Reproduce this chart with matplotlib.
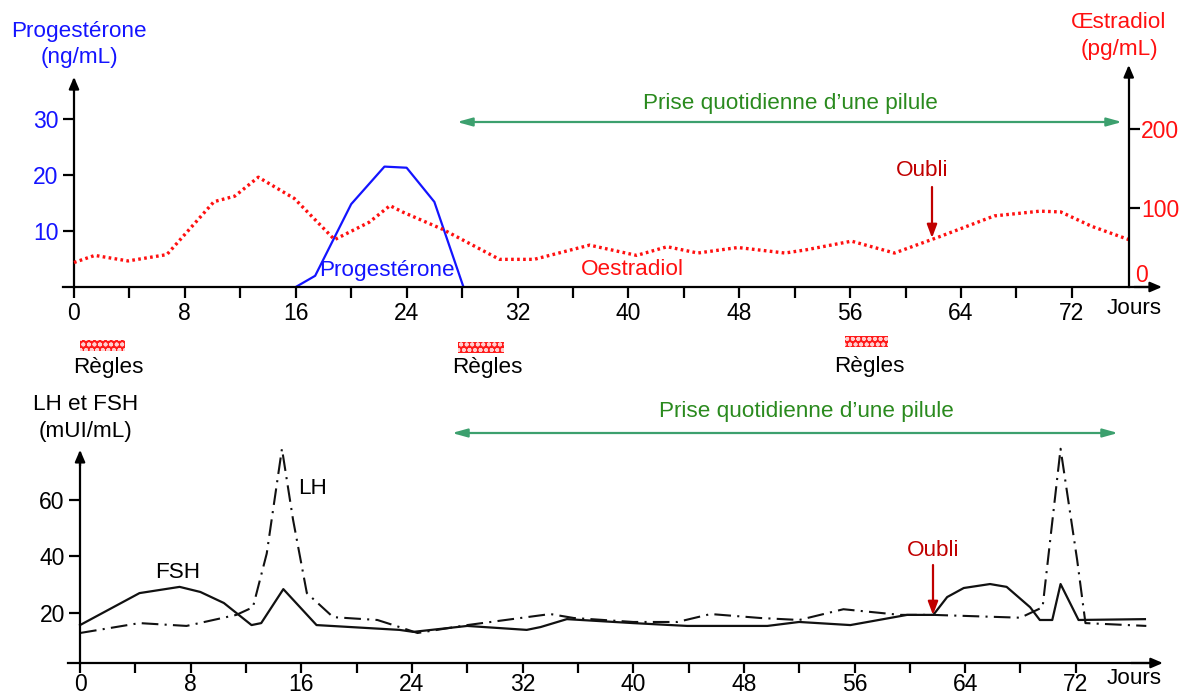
import matplotlib
matplotlib.use("Agg")
import matplotlib.pyplot as plt
from matplotlib.patches import Rectangle

plt.rcParams['font.family'] = ['Liberation Sans', 'DejaVu Sans']

# ---------------- data ----------------
prog_days = [16, 17.4, 20, 22.4, 24, 26, 28.1]
prog_vals = [0, 2, 14.8, 21.5, 21.3, 15.2, 0]

oes_days = [0, 1.5, 3.9, 6.7, 10.1, 11.6, 13.3, 15.9, 18.8, 21.3, 22.8, 23.7, 26.6,
            30.7, 33.2, 37.2, 40.6, 42.8, 45, 47.9, 51.3, 52.8, 56.1, 59.2, 62.5,
            66.4, 69.7, 71.2, 73.4, 76.1]
oes_vals = [31, 40, 33, 41, 108, 115, 139, 112, 60, 82, 103, 95, 73,
            35, 35, 53, 40, 51, 43, 50, 43, 47, 58, 43, 64,
            90, 96, 95, 77, 60]

lh_days = [0, 4.3, 7.7, 11.3, 12.5, 13.5, 14.6, 15.4, 16.4, 18.3, 21.5, 23.1, 24.4,
           28, 34, 35.7, 40, 43.2, 45.6, 49.2, 52, 55.2, 59.3, 61.7, 68, 69.6,
           70.9, 72.1, 72.7, 77.1]
lh_vals = [12.9, 16.4, 15.4, 19.3, 22, 41, 78, 53, 27, 18.5, 17.5, 15, 12.9,
           15.7, 19.6, 18.2, 16.8, 16.8, 19.6, 18.2, 17.5, 21.3, 19.3, 19.3, 18.3, 22,
           78, 38.7, 16.4, 15.4]

fsh_days = [0, 4.3, 7.2, 8.7, 10.4, 12.4, 13.1, 14.7, 17.1, 23.1, 24.1, 28, 32.3,
            33.3, 35.2, 40, 43.9, 49.7, 52, 55.7, 59.8, 61.7, 62.7, 63.9, 65.8, 67,
            68.7, 69.4, 70.3, 70.9, 72.2, 77]
fsh_vals = [15.7, 27, 29.2, 27.4, 23.5, 15.7, 16.4, 28.4, 15.7, 14, 13.3, 15.4, 14,
            15, 17.8, 16.4, 15.4, 15.4, 16.8, 15.7, 19.3, 19.3, 25.6, 28.8, 30.2, 29.2,
            22, 17.5, 17.5, 30.2, 17.5, 17.8]

x_ticks = list(range(0, 73, 4))
x_labels = [str(t) if t % 8 == 0 else "" for t in x_ticks]
prog_ticks = [10, 20, 30]
oes_ticks = [100, 200]
hormone_ticks = [20, 40, 60]
regles_days = [(0.4, 3.7), (27.7, 31.0), (55.6, 58.7)]

# ---------------- figure ----------------
W, H = 1184, 697
fig = plt.figure(figsize=(W / 100, H / 100), dpi=100)

def axes_px(x0, y0, x1, y1):
    return fig.add_axes([x0 / W, 1 - y1 / H, (x1 - x0) / W, (y1 - y0) / H])

BLUE = '#1414ff'
RED = '#ff1010'
DRED = '#c00000'
GREEN_T = '#2a8a1e'
GREEN_A = '#3ca06e'
TFS = 16.2
LFS = 16.5

head = dict(arrowstyle='-|>,head_length=0.7,head_width=0.3', color='black',
            lw=1.6, shrinkA=0, shrinkB=0)

# ---------- top panel ----------
ax = axes_px(53.2, 60, 1162, 287)
ax.set_xlim(-1.5, 78.5)
ax.set_ylim(0, 227 / 5.6)
ax.patch.set_alpha(0)
ax2 = ax.twinx()
ax2.set_ylim(0, 227 / 0.79)
ax2.patch.set_alpha(0)

for a in (ax, ax2):
    for s in a.spines.values():
        s.set_visible(False)

ax.spines['left'].set_visible(True)
ax.spines['left'].set_position(('data', 0))
ax.spines['left'].set_bounds(0, 37)
ax.spines['left'].set_linewidth(1.6)
ax.spines['bottom'].set_visible(True)
ax.spines['bottom'].set_position(('data', 0))
ax.spines['bottom'].set_bounds(-0.8, 78)
ax.spines['bottom'].set_linewidth(1.6)
ax2.spines['right'].set_visible(True)
ax2.spines['right'].set_position(('data', 76.1))
ax2.spines['right'].set_bounds(0, 275)
ax2.spines['right'].set_linewidth(1.6)

ax.set_xticks(x_ticks)
ax.set_xticklabels(x_labels, fontsize=LFS)
ax.set_yticks(prog_ticks)
ax.set_yticklabels([str(t) for t in prog_ticks], fontsize=LFS, color=BLUE)
ax.tick_params(axis='both', direction='out', length=8, width=1.6, pad=3)
ax2.set_yticks(oes_ticks)
ax2.set_yticklabels([str(t) for t in oes_ticks], fontsize=LFS, color=RED)
ax2.tick_params(axis='y', direction='out', length=8, width=1.6, pad=1)

ax.annotate('', xy=(0, 37.5), xytext=(0, 35), arrowprops=head, annotation_clip=False)
ax.annotate('', xy=(78.5, 0), xytext=(76.5, 0), arrowprops=head, annotation_clip=False)
ax2.annotate('', xy=(76.1, 281), xytext=(76.1, 265), arrowprops=head, annotation_clip=False)

ax.plot(prog_days, prog_vals, color=BLUE, lw=1.6)
ax2.plot(oes_days, oes_vals, color=RED, lw=2.4, linestyle=(0, (0.8, 1.0)))

# ---------- bottom panel ----------
bx = axes_px(59.3, 440, 1162.9, 663)
bx.set_xlim(-1.5, 78.3)
bx.set_ylim(2.3, 81.1)
bx.patch.set_alpha(0)
for s in bx.spines.values():
    s.set_visible(False)
bx.spines['left'].set_visible(True)
bx.spines['left'].set_position(('data', 0))
bx.spines['left'].set_bounds(2.3, 76.5)
bx.spines['left'].set_linewidth(1.6)
bx.spines['bottom'].set_visible(True)
bx.spines['bottom'].set_bounds(-0.9, 77.5)
bx.spines['bottom'].set_linewidth(1.6)
bx.set_xticks(x_ticks)
bx.set_xticklabels(x_labels, fontsize=LFS)
bx.set_yticks(hormone_ticks)
bx.set_yticklabels([str(t) for t in hormone_ticks], fontsize=LFS)
bx.tick_params(axis='y', direction='out', length=8, width=1.6, pad=3)
bx.tick_params(axis='x', direction='out', length=7, width=1.6, pad=0.5)
bx.annotate('', xy=(0, 77.6), xytext=(0, 72), arrowprops=head, annotation_clip=False)
bx.annotate('', xy=(78.3, 2.3), xytext=(76, 2.3), arrowprops=head, annotation_clip=False)

bx.plot(fsh_days, fsh_vals, color='#111111', lw=1.6)
bx.plot(lh_days, lh_vals, color='#111111', lw=1.5, linestyle=(0, (8, 3, 1, 3)))

# ---------------- texts / annotations (figure pixels) ----------------
def ftxt(x, y, s, **kw):
    fig.text(x / W, 1 - y / H, s, ha='center', va='center', **kw)

ftxt(79, 31, 'Progestérone', fontsize=TFS, color=BLUE)
ftxt(79, 57, '(ng/mL)', fontsize=TFS, color=BLUE)
ftxt(1119, 22, 'Œstradiol', fontsize=TFS, color=RED)
ftxt(1119, 49, '(pg/mL)', fontsize=TFS, color=RED)
ftxt(1141, 275, '0', fontsize=LFS, color=RED)
ftxt(1134, 309, 'Jours', fontsize=TFS, color='black')
ftxt(1134, 678, 'Jours', fontsize=TFS, color='black')
ftxt(387, 270, 'Progestérone', fontsize=TFS, color=BLUE)
ftxt(632, 269, 'Oestradiol', fontsize=TFS, color=RED)
ftxt(922, 171, 'Oubli', fontsize=TFS, color=DRED)
ftxt(933, 550, 'Oubli', fontsize=TFS, color=DRED)
ftxt(790, 103, 'Prise quotidienne d\u2019une pilule', fontsize=TFS, color=GREEN_T)
ftxt(806, 412, 'Prise quotidienne d\u2019une pilule', fontsize=TFS, color=GREEN_T)
ftxt(86, 405, 'LH et FSH', fontsize=TFS, color='black')
ftxt(86, 432, '(mUI/mL)', fontsize=TFS, color='black')
ftxt(178, 573, 'FSH', fontsize=TFS, color='black')
ftxt(313, 488, 'LH', fontsize=TFS, color='black')

for (x, y) in [(108, 368), (487, 368), (869, 367)]:
    ftxt(x, y, 'Règles', fontsize=TFS, color='black')

def fpx(x, y):
    return (x, H - y)

oubli_arrow = dict(arrowstyle='-|>,head_length=0.8,head_width=0.3', color=DRED,
                   lw=1.6, shrinkA=0, shrinkB=0)
fig.add_artist(plt.Annotation('', xy=fpx(932, 238), xytext=fpx(932, 187),
                              xycoords='figure pixels', textcoords='figure pixels',
                              arrowprops=oubli_arrow))
fig.add_artist(plt.Annotation('', xy=fpx(933, 615), xytext=fpx(933, 565),
                              xycoords='figure pixels', textcoords='figure pixels',
                              arrowprops=oubli_arrow))

green_arrow = dict(arrowstyle='<|-|>,head_length=0.9,head_width=0.25', color=GREEN_A,
                   lw=1.6, shrinkA=0, shrinkB=0)
fig.add_artist(plt.Annotation('', xy=fpx(457, 122), xytext=fpx(1122, 122),
                              xycoords='figure pixels', textcoords='figure pixels',
                              arrowprops=green_arrow))
fig.add_artist(plt.Annotation('', xy=fpx(452, 433), xytext=fpx(1118, 433),
                              xycoords='figure pixels', textcoords='figure pixels',
                              arrowprops=green_arrow))

# Règles markers, placed along the top panel's day scale
plt.rcParams['hatch.linewidth'] = 1.2
for (d0, d1), ypx in zip(regles_days, [340, 342, 336]):
    x0 = 74 + d0 * 13.86
    x1 = 74 + d1 * 13.86
    r = Rectangle((x0 / W, 1 - (ypx + 11) / H), (x1 - x0) / W, 11 / H,
                  transform=fig.transFigure, facecolor='#ff1a1a',
                  edgecolor='#ffd0d0', hatch='ooo', lw=0)
    fig.add_artist(r)

fig.savefig('out.png', dpi=100)
